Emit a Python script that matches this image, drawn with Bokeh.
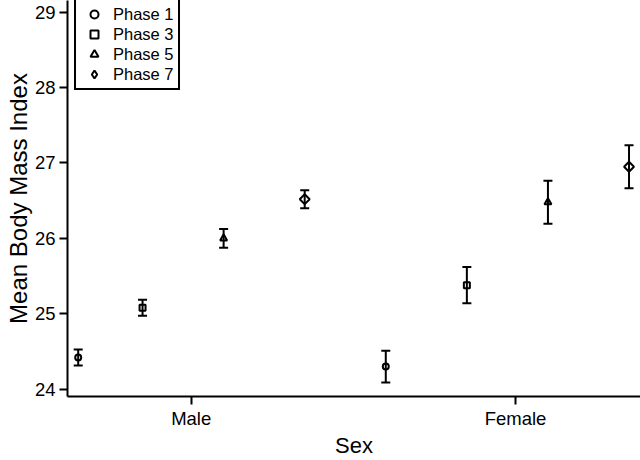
import math
from bokeh.plotting import figure
from bokeh.models import (ColumnDataSource, Whisker, TeeHead, FixedTicker,
                          Legend, LegendItem, Range1d)
from bokeh.embed import file_html
from bokeh.resources import INLINE

# ---- data ----
sexes = ["Male", "Female"]
phases = ["Phase 1", "Phase 3", "Phase 5", "Phase 7"]
male_mean = [24.42, 25.08, 26.00, 26.52]
male_err = [0.105, 0.105, 0.125, 0.12]
female_mean = [24.30, 25.38, 26.48, 26.95]
female_err = [0.21, 0.24, 0.285, 0.285]
y_ticks = [24, 25, 26, 27, 28, 29]

# ---- style ----
dodge = [-0.40, -0.15, 0.10, 0.35]
markers = ["circle", "square", "triangle", "square"]
legend_markers = ["circle", "square", "triangle", "diamond"]
angles = [0.0, 0.0, 0.0, math.pi / 4]
sizes = [6, 6, 7, 7]
FONT = "Liberation Sans"
NAN = float("nan")

x_start, x_end = 0.6186, 2.3854
p = figure(width=640, height=460, output_backend="svg", toolbar_location=None,
           x_range=Range1d(x_start, x_end), y_range=Range1d(23.903, 29.155),
           min_border_left=67, min_border_right=0, min_border_top=0,
           min_border_bottom=64)
p.outline_line_color = None
p.xgrid.visible = False
p.ygrid.visible = False
p.background_fill_color = "white"

cat_pos = [1, 2]
items = []
for i, ph in enumerate(phases):
    xs = [max(c + dodge[i], x_start + 0.033) for c in cat_pos]
    ys = [male_mean[i], female_mean[i]]
    es = [male_err[i], female_err[i]]
    src = ColumnDataSource(dict(
        x=xs, y=ys,
        upper=[y + e for y, e in zip(ys, es)],
        lower=[y - e for y, e in zip(ys, es)],
    ))
    w = Whisker(base="x", upper="upper", lower="lower", source=src,
                dimension="height", line_width=2, line_color="black",
                upper_head=TeeHead(size=9, line_width=2, line_color="black"),
                lower_head=TeeHead(size=9, line_width=2, line_color="black"))
    p.add_layout(w)
    p.scatter("x", "y", source=src, marker=markers[i], size=sizes[i],
              angle=angles[i], line_color="black", line_width=2,
              fill_color=None)
    # legend-only glyph (not drawn in the plot: NaN position)
    lr = p.scatter(x=[NAN], y=[NAN], marker=legend_markers[i], size=8,
                   line_color="black", line_width=2, fill_color=None)
    items.append(LegendItem(label=ph, renderers=[lr]))

legend = Legend(items=items, location=(7, 306))
legend.border_line_color = "black"
legend.border_line_width = 2
legend.border_line_alpha = 1
legend.padding = 4
legend.spacing = 0
legend.margin = 0
legend.glyph_width = 28
legend.glyph_height = 20
legend.label_height = 19
legend.label_standoff = 5
legend.label_text_font = FONT
legend.label_text_font_size = "16.5px"
legend.label_text_color = "black"
legend.background_fill_alpha = 1
p.add_layout(legend, "center")

for ax in (p.xaxis[0], p.yaxis[0]):
    ax.axis_line_width = 2
    ax.axis_line_color = "black"
    ax.major_tick_line_width = 2
    ax.major_tick_line_color = "black"
    ax.major_tick_in = 0
    ax.major_tick_out = 8
    ax.minor_tick_line_color = None
    ax.major_label_text_font = FONT
    ax.major_label_text_font_size = "18.5px"
    ax.major_label_text_color = "black"
    ax.major_label_text_line_height = 1.0
    ax.axis_label_text_font = FONT
    ax.axis_label_text_font_style = "normal"
    ax.axis_label_text_color = "black"
    ax.axis_label_text_line_height = 1.0

p.xaxis.ticker = FixedTicker(ticks=cat_pos)
p.xaxis.major_label_overrides = {c: s for c, s in zip(cat_pos, sexes)}
p.xaxis.axis_label = "Sex"
p.xaxis.axis_label_text_font_size = "22px"
p.xaxis.major_label_standoff = 3
p.xaxis.axis_label_standoff = 1

p.yaxis.ticker = FixedTicker(ticks=y_ticks)
p.yaxis.axis_label = "Mean Body Mass Index"
p.yaxis.axis_label_text_font_size = "24px"
p.yaxis.major_label_standoff = 4
p.yaxis.axis_label_standoff = 0

open("out.html", "w").write(file_html(p, INLINE))
